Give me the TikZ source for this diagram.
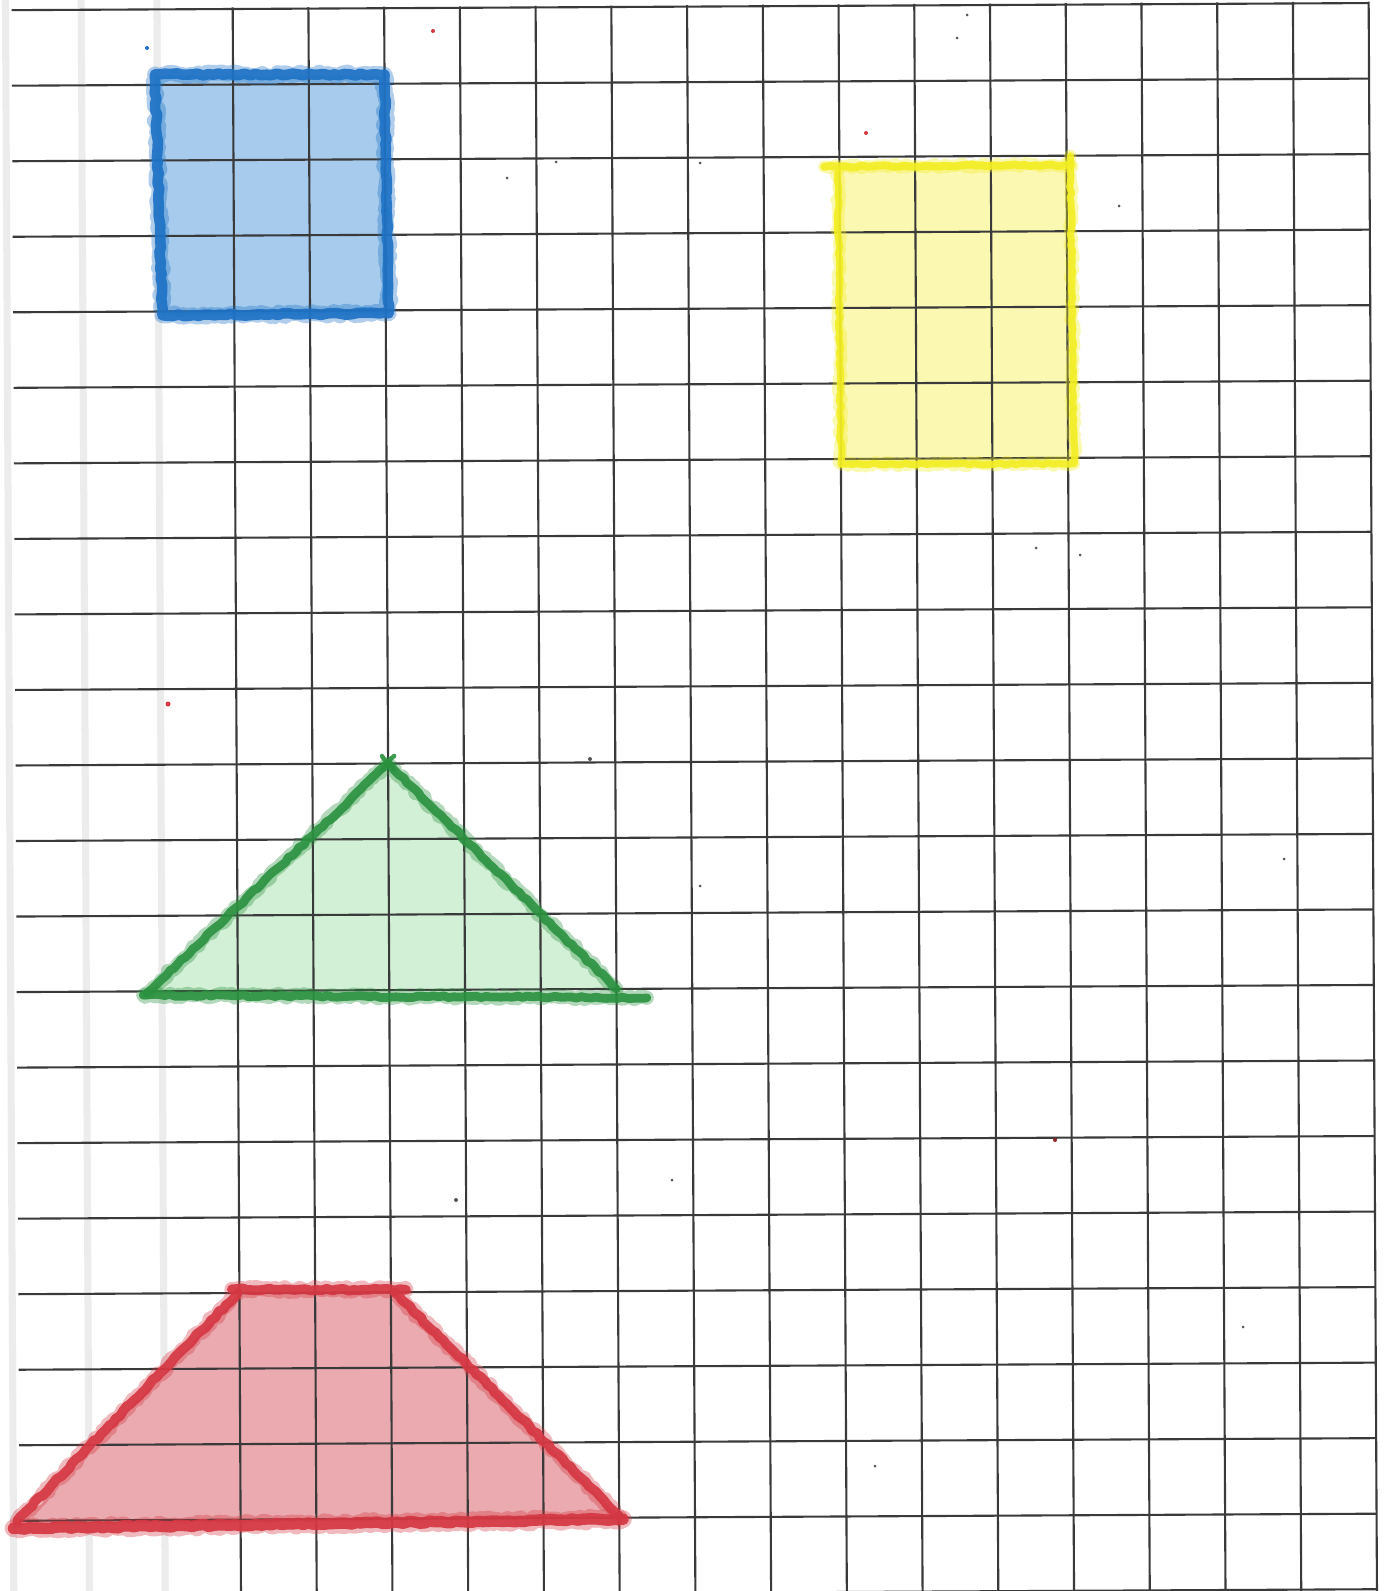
\documentclass[tikz,border=0pt]{standalone}
\usetikzlibrary{decorations.pathmorphing}
\definecolor{gridc}{HTML}{3A3A3A}
\definecolor{faintc}{HTML}{ECECEC}
\definecolor{blueS}{HTML}{1E72C6}
\definecolor{blueF}{HTML}{A6CBEC}
\definecolor{yelS}{HTML}{F3EE22}
\definecolor{yelF}{HTML}{FBF8B2}
\definecolor{grnS}{HTML}{2A913F}
\definecolor{grnF}{HTML}{D2F0D5}
\definecolor{redS}{HTML}{D43742}
\definecolor{redF}{HTML}{EAAAAF}
\definecolor{speck}{HTML}{555555}
\tikzset{
  gridline/.style={gridc, line width=1.2pt},
  faintline/.style={faintc, line width=4pt},
  crayon/.style={decorate, decoration={random steps, segment length=3pt, amplitude=0.6pt}, line join=round, line cap=round},
  fuzz/.style={decorate, decoration={random steps, segment length=2pt, amplitude=1.2pt}, line join=round, line cap=round, opacity=0.35},
  crayonfill/.style={decorate, decoration={random steps, segment length=4pt, amplitude=0.8pt}},
  dotmark/.style={fill=speck},
}
\begin{document}
\begin{tikzpicture}[x=0.02cm, y=-0.02cm]
\fill[white] (0,0) rectangle (1388,1591);
\useasboundingbox (0,0) rectangle (1388,1591);
\clip (0,0) rectangle (1388,1591);
\begin{scope}[shift={(5.5,10.2)}, rotate=0.3, x=1.515cm, y=-1.511cm]
  % faint margin lines (under everything)
  \foreach \i in {0,1,2} \draw[faintline] (\i,-0.3) -- (\i,21.3);
  % fills
  \fill[blueF, crayonfill] (1.98,0.88) -- (5.02,0.9) -- (5.05,4.05) -- (2.05,4.06) -- cycle;
  \fill[yelF, crayonfill] (10.95,2.12) -- (14.05,2.1) -- (14.08,6.07) -- (11.0,6.08) -- cycle;
  \fill[grnF, crayonfill] (1.85,13.0) -- (5.0,10.0) -- (8.0,13.0) -- cycle;
  \fill[redF, crayonfill] (0.1,20.05) -- (3.0,17.0) -- (5.05,17.0) -- (8.02,20.0) -- cycle;
  % grid
  \foreach \i in {3,...,18} \draw[gridline] (\i,-0.02) -- (\i,21.3);
  \foreach \j in {0,...,21} \draw[gridline] (0.08,\j) -- (18,\j);
  % outlines: blue square
  \draw[blueS, line width=9pt, fuzz]
    (1.97,0.86) -- (5.0,0.88) -- (5.04,4.04) -- (2.05,4.05) -- cycle;
  \draw[blueS, line width=6pt, crayon, opacity=0.92]
    (1.97,0.86) -- (5.0,0.88) -- (5.04,4.04) -- (2.05,4.05) -- cycle;
  % yellow rectangle
  \draw[yelS, line width=7pt, fuzz] (10.8,2.13) -- (14.05,2.12);
  \draw[yelS, line width=4.5pt, crayon, opacity=0.9] (10.8,2.13) -- (14.05,2.12);
  \draw[yelS, line width=7pt, fuzz] (14.05,2.0) -- (14.08,6.08) -- (11.0,6.07) -- (10.98,2.2);
  \draw[yelS, line width=4pt, crayon, opacity=0.9]
    (14.05,2.0) -- (14.08,6.08) -- (11.0,6.07) -- (10.98,2.2);
  % green triangle
  \draw[grnS, line width=8pt, fuzz] (1.8,13.02) -- (5.0,10.0) -- (8.0,13.0);
  \draw[grnS, line width=5pt, crayon, opacity=0.9] (1.8,13.02) -- (5.0,10.0) -- (8.0,13.0);
  \draw[grnS, line width=8pt, fuzz] (1.75,13.05) -- (8.4,13.12);
  \draw[grnS, line width=5pt, crayon, opacity=0.9] (1.75,13.05) -- (8.4,13.12);
  \draw[grnS, line width=2.5pt, crayon, opacity=0.9]
    (4.92,9.9) -- (5.08,10.08) (5.08,9.9) -- (4.92,10.08);
  % red trapezoid
  \draw[redS, line width=8.5pt, fuzz] (0.05,20.0) -- (2.98,17.0) (2.9,16.95) -- (5.2,16.97) (5.05,17.0) -- (8.0,19.98);
  \draw[redS, line width=5.5pt, crayon, opacity=0.92] (0.05,20.0) -- (2.98,17.0);
  \draw[redS, line width=5.5pt, crayon, opacity=0.92] (2.9,16.95) -- (5.2,16.97);
  \draw[redS, line width=5.5pt, crayon, opacity=0.92] (5.05,17.0) -- (8.0,19.98);
  \draw[redS, line width=10pt, fuzz] (0.0,20.1) -- (8.05,20.02);
  \draw[redS, line width=6.5pt, crayon, opacity=0.92] (0.0,20.1) -- (8.05,20.02);
\end{scope}
% small specks on the paper
\fill[redS] (433,31) circle (2);
\fill[blueS] (147,48) circle (2);
\fill[redS] (866,133) circle (2);
\fill[redS] (168,704) circle (2.5);
\fill[dotmark] (507,178) circle (1.5);
\fill[dotmark] (556,162) circle (1.5);
\fill[dotmark] (700,163) circle (1.5);
\fill[dotmark] (957,38) circle (1.5);
\fill[dotmark] (967,15) circle (1.5);
\fill[dotmark] (1119,206) circle (1.5);
\fill[dotmark] (1080,555) circle (1.5);
\fill[dotmark] (1036,548) circle (1.5);
\fill[dotmark] (590,759) circle (2);
\fill[dotmark] (700,886) circle (1.5);
\fill[dotmark] (1284,859) circle (1.5);
\fill[redS!70!black] (1055,1140) circle (2);
\fill[dotmark] (456,1200) circle (2);
\fill[dotmark] (672,1180) circle (1.5);
\fill[dotmark] (1243,1327) circle (1.5);
\fill[dotmark] (875,1466) circle (1.5);
\end{tikzpicture}
\end{document}
